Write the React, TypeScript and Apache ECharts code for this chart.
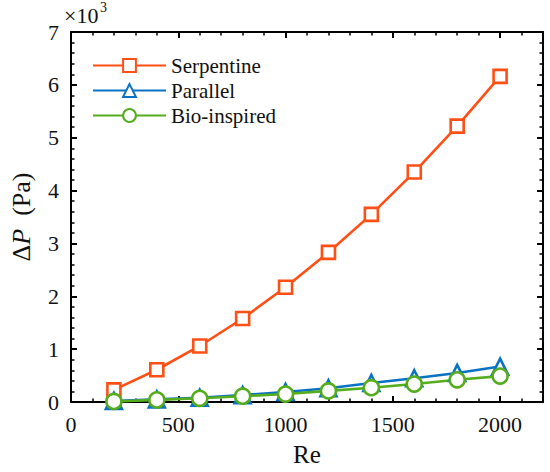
import React, { useEffect, useRef } from "react";
import * as echarts from "echarts";

const reValues = [200, 400, 600, 800, 1000, 1200, 1400, 1600, 1800, 2000];
const serpentine = [0.23, 0.61, 1.06, 1.58, 2.17, 2.83, 3.55, 4.35, 5.22, 6.16];
const parallel = [0.02, 0.05, 0.08, 0.13, 0.19, 0.26, 0.36, 0.45, 0.55, 0.67];
const bioInspired = [0.01, 0.04, 0.07, 0.11, 0.15, 0.21, 0.27, 0.34, 0.42, 0.49];
const seriesNames = ["Serpentine", "Parallel", "Bio-inspired"];
const seriesColors = ["#FF4F14", "#0A72C4", "#55AD1E"];
const seriesSymbols = ["rect", "triangle", "circle"];
const seriesSizes = [13, 16, 15];

const FONT = "Liberation Serif";
const CSS = `#root svg text, #root svg tspan { font-family: "Liberation Serif", "Times New Roman", serif !important; }`;

export default function App() {
  const ref = useRef<HTMLDivElement>(null);
  useEffect(() => {
    if (!ref.current) return;
    const chart = echarts.init(ref.current, undefined, { renderer: "svg" });
    const datasets = [serpentine, parallel, bioInspired];
    const axisCommon: any = {
      type: "value",
      axisLine: { show: true, onZero: false, lineStyle: { color: "#000", width: 2 } },
      axisTick: { show: true, inside: true, length: 6, lineStyle: { color: "#000", width: 2 } },
      minorTick: { show: true, splitNumber: 5, length: 3.5, lineStyle: { color: "#000", width: 1.5 } },
      splitLine: { show: false },
    };
    chart.setOption({
      animation: false,
      grid: { left: 62, right: 7, top: 32, bottom: 69 },
      legend: {
        orient: "vertical",
        left: 87,
        top: 50,
        itemWidth: 73,
        itemHeight: 16,
        itemGap: 4,
        textStyle: { fontFamily: FONT, fontSize: 21, color: "#111" },
        data: seriesNames,
      },
      xAxis: [
        {
          ...axisCommon,
          min: 0,
          max: 2200,
          interval: 500,
          position: "bottom",
          name: "Re",
          nameLocation: "middle",
          nameGap: 40,
          nameTextStyle: { fontFamily: FONT, fontSize: 25, color: "#111" },
          axisLabel: {
            fontFamily: FONT,
            fontSize: 22,
            color: "#111",
            margin: 11,
            formatter: (v: number) => (v > 2000 ? "" : String(v)),
          },
        },
        {
          ...axisCommon,
          min: 0,
          max: 2200,
          interval: 500,
          position: "top",
          axisLabel: { show: false },
        },
      ],
      yAxis: [
        {
          ...axisCommon,
          min: 0,
          max: 7,
          interval: 1,
          position: "left",
          name: "{d|Δ}{i|P}{d|  (Pa)}",
          nameLocation: "middle",
          nameGap: 37,
          nameMoveOverlap: false,
          nameTextStyle: {
            fontFamily: FONT,
            fontSize: 26,
            color: "#111",
            rich: {
              d: { fontFamily: FONT, fontSize: 26 },
              i: { fontFamily: FONT, fontSize: 26, fontStyle: "italic" },
            },
          },
          axisLabel: { fontFamily: FONT, fontSize: 22, color: "#111", margin: 12, formatter: (v: number) => String(v) },
        },
        {
          ...axisCommon,
          min: 0,
          max: 7,
          interval: 1,
          position: "right",
          axisLabel: { show: false },
        },
      ],
      graphic: [
        {
          type: "text",
          left: 64,
          top: 4,
          style: { text: "×10", fontFamily: FONT, fontSize: 22, fill: "#111" },
        },
        {
          type: "text",
          left: 100,
          top: 0,
          style: { text: "3", fontFamily: FONT, fontSize: 14, fill: "#111" },
        },
      ],
      series: seriesNames.map((name, k) => ({
        name,
        type: "line",
        data: reValues.map((x, i) => [x, datasets[k][i]]),
        symbol: seriesSymbols[k],
        symbolSize: seriesSizes[k],
        lineStyle: { color: seriesColors[k], width: 2.6 },
        itemStyle: { color: "#fff", borderColor: seriesColors[k], borderWidth: 2.6 },
        emphasis: { disabled: true },
      })),
    });
    return () => chart.dispose();
  }, []);
  return (
    <>
      <style>{CSS}</style>
      <div
        ref={ref}
        style={{ position: "absolute", left: 0, top: 0, width: 550, height: 472 }}
      />
    </>
  );
}
